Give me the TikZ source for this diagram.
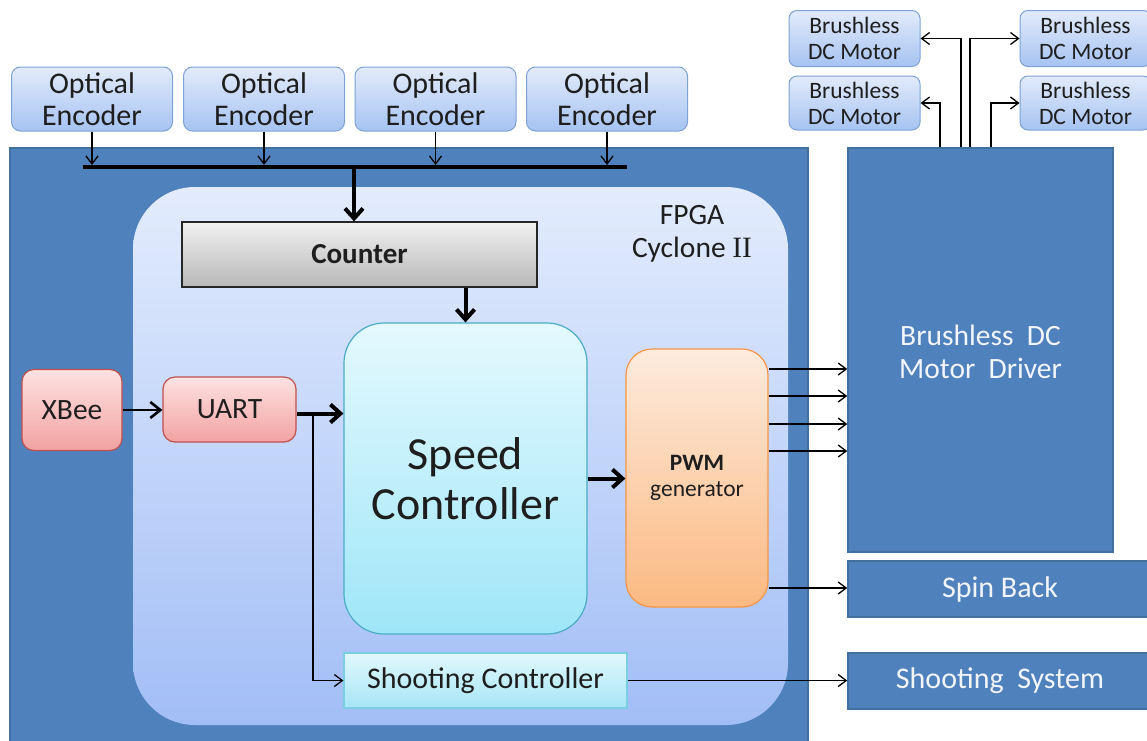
\documentclass[tikz,border=0pt]{standalone}
\usepackage{fontspec}
\setmainfont{Carlito}
\newfontfamily\romanII{Liberation Serif}
\usetikzlibrary{arrows.meta}
\definecolor{outerblue}{HTML}{4F81BD}
\definecolor{outerline}{HTML}{41719C}
\definecolor{enctop}{HTML}{E2EBFA}
\definecolor{encbot}{HTML}{A6C3F2}
\definecolor{encline}{HTML}{7EA2D6}
\definecolor{fpgatop}{HTML}{E3ECFD}
\definecolor{fpgabot}{HTML}{A2BEF6}
\definecolor{cnttop}{HTML}{F0F0F0}
\definecolor{cntbot}{HTML}{B8B8B8}
\definecolor{sctop}{HTML}{E4F9FE}
\definecolor{scbot}{HTML}{9EE6F8}
\definecolor{scline}{HTML}{4BACC6}
\definecolor{redtop}{HTML}{FDE2E2}
\definecolor{redbot}{HTML}{F3A2A2}
\definecolor{redline}{HTML}{C0504D}
\definecolor{orgtop}{HTML}{FDEBDD}
\definecolor{orgbot}{HTML}{FBB982}
\definecolor{orgline}{HTML}{F79646}
\definecolor{shctop}{HTML}{E2F8FD}
\definecolor{shcbot}{HTML}{A6E6F6}
\definecolor{shcline}{HTML}{7CCFE3}
\definecolor{txt}{HTML}{1E1E1E}
\definecolor{wtxt}{HTML}{F2F5FA}
\tikzset{
  enc/.style={draw=encline, line width=1pt, rounded corners=9pt, top color=enctop, bottom color=encbot,
    minimum width=161pt, minimum height=64pt, inner sep=0pt, align=center, text=txt,
    font=\fontsize{30}{32}\selectfont},
  motor/.style={draw=encline, line width=1pt, rounded corners=8pt, top color=enctop, bottom color=encbot,
    minimum width=131pt, minimum height=56pt, inner sep=0pt, align=center, text=txt,
    font=\fontsize{23.5}{26}\selectfont},
  darkbox/.style={fill=outerblue, draw=outerline, line width=1.5pt, inner sep=0pt, align=center, text=wtxt,
    font=\fontsize{29.5}{33}\selectfont},
  redbox/.style={draw=redline, line width=1.2pt, rounded corners=12pt, top color=redtop, bottom color=redbot,
    inner sep=0pt, text=txt, font=\fontsize{29.5}{32}\selectfont},
  thinarr/.style={line width=1.3pt, -{Straight Barb[length=8pt,width=12pt]}},
  medarr/.style={line width=2.6pt, -{Straight Barb[length=10pt,width=16pt]}},
  thickarr/.style={line width=4pt, -{Straight Barb[length=10pt,width=18pt]}},
  busline/.style={line width=4pt}
}
\begin{document}
\begin{tikzpicture}[x=1pt,y=-1pt]
\useasboundingbox (0,0) rectangle (1147,740);
\fill[white] (0,0) rectangle (1147,740);
% outer board
\path[fill=outerblue, draw=outerline, line width=1.5pt] (10,148) rectangle (808,760);
% FPGA region
\path[rounded corners=62pt, top color=fpgatop, bottom color=fpgabot] (133,187) rectangle (788,725);
\node[text=txt, align=center, font=\fontsize{29.5}{33}\selectfont] (fpga) at (692,234) {FPGA\\Cyclone {\romanII II}};

% encoders
\node[enc] (e1) at (92,99) {Optical\\Encoder};
\node[enc] (e2) at (264,99) {Optical\\Encoder};
\node[enc] (e3) at (435.5,99) {Optical\\Encoder};
\node[enc] (e4) at (607,99) {Optical\\Encoder};

% motors
\node[motor] (m1) at (854.5,38.5) {Brushless\\DC Motor};
\node[motor, minimum height=54pt] (m2) at (854.5,103) {Brushless\\DC Motor};
\node[motor] (m3) at (1085.5,38.5) {Brushless\\DC Motor};
\node[motor, minimum height=54pt] (m4) at (1085.5,103) {Brushless\\DC Motor};

% inner blocks
\node[draw=black!85, line width=1.2pt, top color=cnttop, bottom color=cntbot, minimum width=355pt, minimum height=65pt,
  inner sep=0pt, text=txt, font=\bfseries\fontsize{29}{30}\selectfont] (cnt) at (359.5,254.5) {Counter};
\node[draw=scline, line width=1.2pt, rounded corners=40pt, top color=sctop, bottom color=scbot,
  minimum width=243pt, minimum height=311pt, inner sep=0pt, align=center, text=txt,
  font=\fontsize{46}{50}\selectfont] (sc) at (465.5,478.5) {Speed\\Controller};
\node[redbox, minimum width=100pt, minimum height=81pt] (xb) at (72,410) {XBee};
\node[redbox, minimum width=133pt, minimum height=65pt] (uart) at (229.5,409.5) {UART};
\node[draw=orgline, line width=1.2pt, rounded corners=26pt, top color=orgtop, bottom color=orgbot,
  minimum width=142pt, minimum height=258pt, inner sep=0pt, align=center, text=txt,
  font=\fontsize{23.5}{26}\selectfont] (pwm) at (697,478) {{\bfseries PWM}\\generator};
\node[draw=shcline, line width=1.2pt, top color=shctop, bottom color=shcbot,
  minimum width=283pt, minimum height=55pt, inner sep=0pt, text=txt,
  font=\fontsize{30}{32}\selectfont] (shc) at (485.5,680.5) {Shooting Controller};

% right side boxes
\node[darkbox, minimum width=265pt, minimum height=404pt] (drv) at (980.5,350) {};
\node[text=wtxt, align=center, font=\fontsize{29.5}{33}\selectfont] (drvtxt) at (980.5,352) {Brushless~~DC\\Motor~~Driver};
\node[darkbox, minimum width=302pt, minimum height=56pt] (spin) at (999,589) {};
\node[text=wtxt, font=\fontsize{30}{33}\selectfont] (spintxt) at (1000,589) {Spin Back};
\node[darkbox, minimum width=302pt, minimum height=56pt] (shs) at (999,681) {};
\node[text=wtxt, font=\fontsize{30}{33}\selectfont] (shstxt) at (1000,681) {Shooting~~System};

% bus
\coordinate (busL) at (83,167);
\coordinate (busR) at (627,167);
\coordinate (busC) at (354,167);
\draw[busline] (busL) -- (busR);
\foreach \e in {e1,e2,e3,e4}
  \draw[thinarr, shorten >=2pt] (\e.south) -- (\e.south |- busL);
\draw[thickarr] (busC) -- (busC |- cnt.north);
\draw[thickarr] (cnt.south -| sc.north) -- (sc.north);

% XBee / UART
\draw[medarr] (xb.east) -- (xb.east -| uart.west);
\draw[thickarr] ([yshift=-4pt]uart.east) -- ([yshift=-4pt]uart.east -| sc.west);
\coordinate (br) at (313,413.5);
\draw[thinarr] (br) |- (shc.west);

% speed controller to PWM
\draw[thickarr] (sc.east) -- (sc.east -| pwm.west);

% PWM outputs
\foreach \s in {109,82,54,27}
  \draw[thinarr] ([yshift=\s pt]pwm.east) -- ([yshift=\s pt]pwm.east -| drv.west);
\draw[thinarr] ([yshift=-110pt]pwm.east) -- ([yshift=-110pt]pwm.east -| spin.west);
\draw[thinarr] (shc.east) -- (shc.east -| shs.west);

% motor connections
\draw[thinarr] ([xshift=-40.5pt]drv.north) |- (m2.east);
\draw[thinarr] ([xshift=-19.5pt]drv.north) |- (m1.east);
\draw[thinarr] ([xshift=-10.5pt]drv.north) |- (m3.west);
\draw[thinarr] ([xshift=10.5pt]drv.north) |- (m4.west);
\end{tikzpicture}
\end{document}
